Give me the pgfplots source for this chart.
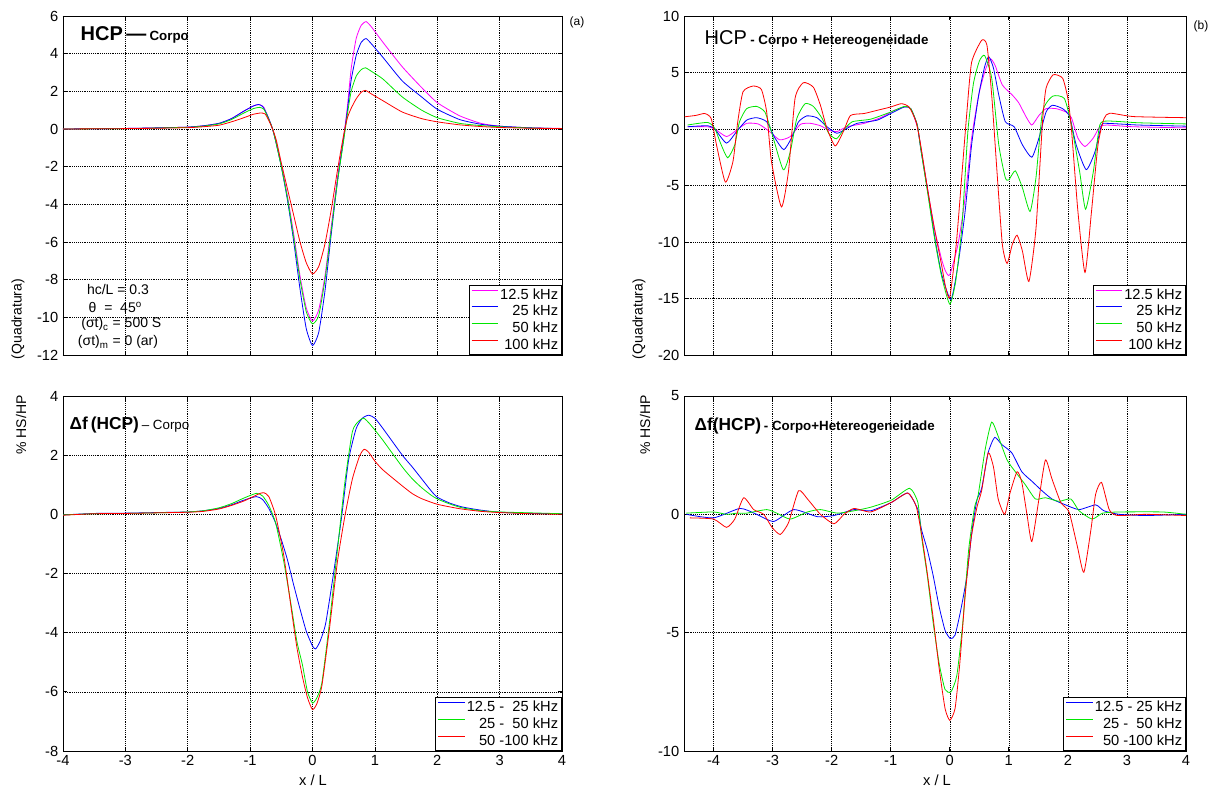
\documentclass[border=0pt]{standalone}
\usepackage{fontspec}
\setmainfont{Liberation Sans}
\usepackage{pgfplots}
\pgfplotsset{compat=1.18}

\definecolor{mmag}{RGB}{255,0,255}
\definecolor{mblue}{RGB}{0,0,255}
\definecolor{mgreen}{RGB}{0,230,0}
\definecolor{mred}{RGB}{255,0,0}

\pgfplotsset{
  matpanel/.style={
    scale only axis,
    axis line style={black, line width=0.6pt},
    tick align=inside,
    major tick length=3pt,
    tick style={black, line width=0.5pt},
    grid=major,
    major grid style={black, densely dotted, line width=0.4pt},
    tick label style={font=\fontsize{11}{13}\selectfont},
    /pgf/number format/assume math mode=true,
    legend cell align=right,
    legend style={at={(rel axis cs:1,0)}, anchor=south east,
      fill=white, font=\fontsize{11}{11}\selectfont,
      inner sep=1.5pt, row sep=0.6pt, nodes={inner sep=1.2pt}},
    legend image code/.code={\draw[#1, line width=0.7pt, sharp plot] (0pt,3.5pt) -- (20pt,3.5pt);},
    every axis plot/.append style={line width=0.6pt, smooth, tension=0.35, mark=none},
  }
}

\begin{document}
\begin{tikzpicture}
\path[use as bounding box] (0,0) rectangle (913.5pt,594.75pt);

% ---------- (a) top left ----------
\begin{axis}[matpanel, at={(47.25pt,328.5pt)}, anchor=south west,
  width=374.25pt, height=254.25pt,
  xmin=-4, xmax=4, ymin=-12, ymax=6,
  xtick={-4,...,4}, ytick={-12,-10,...,6}, xticklabels={}]
\addplot[draw=mmag] coordinates {(-4,0) (-3,0.03) (-2.5,0.06) (-2,0.1) (-1.75,0.17) (-1.5,0.3) (-1.3,0.55) (-1.1,0.95) (-0.95,1.22) (-0.85,1.3) (-0.78,1.15) (-0.72,0.7) (-0.65,0.1) (-0.6,-0.5) (-0.5,-1.9) (-0.4,-3.6) (-0.3,-5.6) (-0.2,-7.8) (-0.1,-9.5) (0,-10.2) (0.1,-9.6) (0.2,-7.8) (0.3,-5.2) (0.4,-2.6) (0.5,-0.4) (0.56,1.2) (0.62,3.2) (0.7,4.8) (0.78,5.5) (0.86,5.7) (0.95,5.4) (1.13,4.6) (1.44,3.3) (1.75,2.2) (2.0,1.4) (2.36,0.7) (2.7,0.3) (3.0,0.15) (3.5,0.06) (4,0.03)};
\addlegendentry{12.5 kHz}
\addplot[draw=mblue] coordinates {(-4,0) (-3,0.03) (-2.5,0.06) (-2,0.1) (-1.75,0.17) (-1.5,0.3) (-1.3,0.55) (-1.1,0.95) (-0.95,1.22) (-0.87,1.3) (-0.8,1.2) (-0.72,0.7) (-0.65,0.1) (-0.6,-0.5) (-0.5,-2.0) (-0.4,-3.8) (-0.3,-6.0) (-0.2,-8.5) (-0.1,-10.6) (0,-11.5) (0.1,-10.8) (0.2,-8.6) (0.3,-5.6) (0.4,-2.8) (0.5,-0.5) (0.56,1.0) (0.62,2.6) (0.7,3.9) (0.78,4.6) (0.86,4.8) (0.95,4.5) (1.13,3.8) (1.44,2.55) (1.75,1.7) (2.0,1.05) (2.36,0.5) (2.7,0.25) (3.0,0.15) (3.5,0.06) (4,0.02)};
\addlegendentry{25 kHz}
\addplot[draw=mgreen] coordinates {(-4,0) (-3,0.02) (-2.5,0.05) (-2,0.09) (-1.75,0.15) (-1.5,0.27) (-1.3,0.5) (-1.1,0.85) (-0.95,1.08) (-0.85,1.15) (-0.78,1.05) (-0.72,0.65) (-0.65,0.1) (-0.6,-0.5) (-0.5,-2.0) (-0.4,-3.7) (-0.3,-5.8) (-0.2,-8.0) (-0.1,-9.7) (0,-10.35) (0.1,-9.9) (0.2,-8.0) (0.3,-5.4) (0.4,-2.8) (0.5,-0.6) (0.56,0.8) (0.62,2.0) (0.7,2.8) (0.78,3.15) (0.85,3.25) (0.95,3.05) (1.13,2.65) (1.44,1.7) (1.75,1.0) (2.0,0.6) (2.36,0.3) (2.7,0.18) (3.0,0.12) (3.5,0.05) (4,0.02)};
\addlegendentry{50 kHz}
\addplot[draw=mred] coordinates {(-4,0) (-3,0.02) (-2.5,0.04) (-2,0.07) (-1.75,0.12) (-1.5,0.2) (-1.3,0.38) (-1.1,0.6) (-0.95,0.78) (-0.83,0.85) (-0.76,0.8) (-0.7,0.45) (-0.64,0) (-0.58,-0.6) (-0.5,-1.8) (-0.4,-3.2) (-0.3,-4.6) (-0.2,-6.0) (-0.1,-7.1) (0,-7.7) (0.1,-7.3) (0.2,-6.1) (0.3,-4.3) (0.4,-2.2) (0.5,-0.3) (0.56,0.6) (0.62,1.1) (0.7,1.6) (0.78,1.95) (0.85,2.05) (0.95,1.85) (1.13,1.5) (1.44,0.9) (1.75,0.55) (2.0,0.38) (2.36,0.22) (2.7,0.13) (3.0,0.08) (3.5,0.04) (4,0.02)};
\addlegendentry{100 kHz}
\end{axis}

% ---------- (b) top right ----------
\begin{axis}[matpanel, at={(513pt,328.5pt)}, anchor=south west,
  width=376.5pt, height=254.25pt,
  xmin=-4.5, xmax=4, ymin=-20, ymax=10,
  xtick={-4,...,4}, ytick={-20,-15,...,10}, xticklabels={}]
\addplot[draw=mmag] coordinates {(-4.44,0.2) (-4.1,0.2) (-3.98,0) (-3.78,-0.67) (-3.61,-0.1) (-3.44,0.5) (-3.24,0.44) (-3.05,-0.23) (-2.88,-0.96) (-2.7,-0.67) (-2.53,0.41) (-2.36,0.5) (-2.19,0.29) (-2.05,-0.1) (-1.91,-0.23) (-1.74,0.2) (-1.45,0.5) (-1.17,1.0) (-0.94,1.65) (-0.77,1.95) (-0.66,1.8) (-0.55,0.2) (-0.49,-1.6) (-0.37,-5.5) (-0.26,-8.8) (-0.14,-11.5) (-0.07,-12.6) (0,-12.9) (0.14,-10.2) (0.26,-6.1) (0.37,-0.8) (0.49,3.0) (0.6,5.2) (0.69,6.2) (0.77,5.6) (0.89,3.9) (1.06,3.0) (1.17,2.3) (1.29,1.1) (1.39,0.35) (1.51,1.2) (1.63,1.8) (1.8,1.8) (1.97,1.5) (2.06,1.0) (2.17,-0.8) (2.29,-1.55) (2.43,-0.8) (2.54,0.2) (2.66,0.35) (3.1,0.2) (4,0.1)};
\addlegendentry{12.5 kHz}
\addplot[draw=mblue] coordinates {(-4.44,0.2) (-4.1,0.29) (-3.98,0) (-3.78,-1.25) (-3.61,-0.23) (-3.44,0.78) (-3.27,1.0) (-3.1,0.64) (-2.96,-0.8) (-2.81,-1.83) (-2.68,-0.8) (-2.56,0.64) (-2.42,1.16) (-2.25,1.0) (-2.08,0.2) (-1.91,-0.38) (-1.74,0.06) (-1.57,0.5) (-1.23,0.78) (-1.0,1.37) (-0.77,1.95) (-0.66,1.8) (-0.55,0.35) (-0.49,-1.8) (-0.37,-5.6) (-0.26,-9.4) (-0.14,-12.8) (0.02,-15.1) (0.14,-12) (0.26,-7.3) (0.37,-1.4) (0.49,3.0) (0.59,5.5) (0.66,6.4) (0.74,5.4) (0.83,3.0) (0.94,0.65) (1.09,0.2) (1.23,-1.4) (1.39,-2.5) (1.51,-0.8) (1.63,1.5) (1.74,2.1) (1.91,1.8) (2.03,1.1) (2.14,-1.4) (2.31,-3.6) (2.46,-2.0) (2.57,0.35) (2.66,0.5) (3.2,0.35) (4,0.25)};
\addlegendentry{25 kHz}
\addplot[draw=mgreen] coordinates {(-4.44,0.35) (-4.1,0.58) (-3.98,0.06) (-3.87,-1.4) (-3.76,-2.55) (-3.64,-1.4) (-3.56,0.64) (-3.44,1.8) (-3.27,2.0) (-3.13,1.5) (-3.02,-0.23) (-2.82,-3.6) (-2.7,-2.0) (-2.59,0.93) (-2.45,2.24) (-2.31,2.0) (-2.16,0.93) (-2.05,-0.38) (-1.92,-0.87) (-1.8,-0.1) (-1.65,0.64) (-1.34,0.87) (-1.0,1.5) (-0.77,2.0) (-0.66,1.8) (-0.55,0.35) (-0.49,-1.8) (-0.37,-5.8) (-0.26,-9.6) (-0.14,-13) (0,-15.5) (0.1,-13.5) (0.2,-9) (0.25,-5) (0.31,0) (0.4,4) (0.5,6) (0.59,6.5) (0.71,4.5) (0.83,-1.4) (0.94,-4.3) (1.0,-4.5) (1.11,-3.7) (1.23,-5.2) (1.36,-7.3) (1.46,-4.3) (1.57,1.5) (1.74,2.9) (1.94,2.7) (2.06,0.35) (2.2,-3.8) (2.3,-7.1) (2.43,-3.8) (2.54,0.35) (2.69,0.7) (3.2,0.55) (4,0.45)};
\addlegendentry{50 kHz}
\addplot[draw=mred] coordinates {(-4.49,1.08) (-4.3,1.2) (-4.15,1.37) (-4.04,0.93) (-3.95,-1.4) (-3.8,-4.7) (-3.67,-2.85) (-3.59,0.64) (-3.5,3.3) (-3.33,3.8) (-3.19,3.5) (-3.1,1.5) (-3.02,-2.85) (-2.85,-6.9) (-2.73,-3.7) (-2.62,2.7) (-2.48,4.1) (-2.31,3.7) (-2.19,2.1) (-2.08,0.06) (-1.94,-1.5) (-1.8,-0.2) (-1.68,1.2) (-1.45,1.37) (-1.23,1.65) (-1.0,1.95) (-0.82,2.24) (-0.69,1.95) (-0.57,0.64) (-0.49,-1.5) (-0.37,-5.5) (-0.26,-8.8) (-0.14,-12) (-0.07,-14) (0,-14.9) (0.11,-10.2) (0.2,-4.4) (0.29,1.5) (0.37,5.9) (0.54,7.85) (0.63,7.4) (0.71,3.0) (0.8,-3.8) (0.89,-10.2) (0.97,-11.9) (1.06,-10.2) (1.14,-9.4) (1.23,-10.8) (1.34,-13.5) (1.46,-8.8) (1.57,0.6) (1.63,3.6) (1.75,4.8) (1.91,4.5) (2.0,2.7) (2.06,0) (2.17,-7.3) (2.29,-12.7) (2.4,-7.3) (2.51,-1.4) (2.61,0.9) (2.71,1.4) (3.11,1.1) (4,1.0)};
\addlegendentry{100 kHz}
\end{axis}

% ---------- bottom left ----------
\begin{axis}[matpanel, at={(47.25pt,31.5pt)}, anchor=south west,
  width=374.25pt, height=266.25pt,
  xmin=-4, xmax=4, ymin=-8, ymax=4,
  xtick={-4,...,4}, ytick={-8,-6,...,4}]
\addplot[draw=mblue] coordinates {(-4,-0.02) (-3.5,0.03) (-3,0.04) (-2.5,0.06) (-2,0.08) (-1.75,0.12) (-1.5,0.2) (-1.3,0.32) (-1.1,0.48) (-0.9,0.6) (-0.8,0.5) (-0.7,0.2) (-0.6,-0.25) (-0.5,-0.85) (-0.4,-1.55) (-0.3,-2.4) (-0.2,-3.2) (-0.1,-3.95) (0,-4.45) (0.05,-4.55) (0.12,-4.3) (0.21,-3.7) (0.33,-2.1) (0.46,-0.2) (0.58,1.85) (0.7,2.9) (0.8,3.25) (0.9,3.35) (1.0,3.25) (1.13,2.9) (1.44,2.0) (1.6,1.6) (1.75,1.2) (1.9,0.8) (2.0,0.58) (2.2,0.38) (2.4,0.25) (2.67,0.15) (3.0,0.07) (3.5,0.03) (4,0.02)};
\addlegendentry{12.5 -\ \ 25 kHz}
\addplot[draw=mgreen] coordinates {(-4,-0.02) (-3.5,0.02) (-3,0.03) (-2.5,0.05) (-2,0.08) (-1.75,0.12) (-1.5,0.22) (-1.3,0.36) (-1.1,0.55) (-0.9,0.71) (-0.8,0.62) (-0.7,0.3) (-0.59,-0.3) (-0.46,-1.6) (-0.34,-3.1) (-0.25,-4.3) (-0.16,-5.1) (-0.08,-6.0) (0,-6.38) (0.07,-6.2) (0.15,-5.7) (0.27,-3.7) (0.4,-1.2) (0.52,1.1) (0.64,2.8) (0.74,3.15) (0.82,3.25) (0.9,3.1) (1.0,2.85) (1.13,2.5) (1.44,1.6) (1.6,1.2) (1.75,0.9) (1.9,0.65) (2.0,0.52) (2.2,0.35) (2.4,0.22) (2.7,0.12) (3.0,0.08) (3.5,0.05) (4,0.02)};
\addlegendentry{25 -\ \ 50 kHz}
\addplot[draw=mred] coordinates {(-4,-0.03) (-3.5,0.02) (-3,0.03) (-2.5,0.05) (-2,0.07) (-1.75,0.1) (-1.5,0.18) (-1.3,0.3) (-1.1,0.45) (-0.95,0.6) (-0.85,0.7) (-0.78,0.73) (-0.7,0.6) (-0.59,-0.05) (-0.46,-1.4) (-0.34,-3.2) (-0.25,-4.5) (-0.16,-5.5) (-0.08,-6.2) (0,-6.6) (0.07,-6.4) (0.15,-5.8) (0.27,-3.9) (0.4,-1.6) (0.52,-0.05) (0.64,1.2) (0.76,2.0) (0.83,2.2) (0.9,2.1) (1.0,1.8) (1.13,1.5) (1.44,0.96) (1.6,0.7) (1.75,0.53) (2.0,0.34) (2.36,0.19) (2.7,0.1) (3.0,0.06) (3.5,0.02) (4,0.0)};
\addlegendentry{50 -100 kHz}
\end{axis}

% ---------- bottom right ----------
\begin{axis}[matpanel, at={(513pt,31.5pt)}, anchor=south west,
  width=376.5pt, height=266.25pt,
  xmin=-4.5, xmax=4, ymin=-10, ymax=5,
  xtick={-4,...,4}, ytick={-10,-5,0,5}]
\addplot[draw=mblue] coordinates {(-4.46,0) (-4.0,-0.15) (-3.55,0.25) (-3.27,0) (-2.98,-0.3) (-2.64,0.2) (-2.24,-0.1) (-1.96,-0.05) (-1.62,0.2) (-1.34,0.15) (-0.99,0.5) (-0.71,0.9) (-0.54,0.2) (-0.48,-0.63) (-0.38,-1.5) (-0.28,-2.6) (-0.18,-3.9) (-0.08,-4.9) (0.01,-5.25) (0.09,-5.1) (0.19,-4.0) (0.29,-2.6) (0.38,-0.63) (0.46,0.6) (0.54,1.1) (0.65,2.6) (0.76,3.25) (0.88,2.95) (1.05,2.6) (1.22,1.8) (1.39,1.4) (1.56,1.0) (1.73,0.65) (1.96,0.4) (2.19,0.2) (2.47,0.4) (2.61,0.15) (2.87,0) (3.32,-0.05) (4,0)};
\addlegendentry{12.5 -\ 25 kHz}
\addplot[draw=mgreen] coordinates {(-4.46,0.05) (-4.0,0.1) (-3.78,0) (-3.6,0.05) (-3.44,0.05) (-3.1,0.2) (-2.93,0.05) (-2.7,-0.2) (-2.41,0.1) (-2.19,0.2) (-1.9,0.05) (-1.62,0.15) (-1.34,0.3) (-0.99,0.6) (-0.68,1.1) (-0.54,0.5) (-0.48,-0.9) (-0.38,-2.6) (-0.28,-4.6) (-0.18,-6.3) (-0.08,-7.4) (0.02,-7.5) (0.12,-6.8) (0.22,-4.6) (0.32,-1.5) (0.42,0.3) (0.48,0.8) (0.6,2.75) (0.71,3.9) (0.82,3.3) (0.97,2.3) (1.11,1.8) (1.28,1.25) (1.45,0.65) (1.62,0.7) (1.85,0.55) (2.05,0.65) (2.19,0.15) (2.41,-0.2) (2.59,0.05) (2.87,0.1) (3.6,0.1) (4,0)};
\addlegendentry{25 -\ \ 50 kHz}
\addplot[draw=mred] coordinates {(-4.4,-0.15) (-4.0,-0.2) (-3.78,-0.55) (-3.64,-0.2) (-3.49,0.7) (-3.32,0.2) (-3.15,0) (-3.01,-0.55) (-2.87,-0.85) (-2.73,-0.35) (-2.56,1.0) (-2.41,0.65) (-2.19,0) (-1.96,-0.4) (-1.79,0) (-1.62,0.25) (-1.34,0.1) (-0.99,0.5) (-0.71,0.9) (-0.57,0.35) (-0.48,-0.8) (-0.38,-2.5) (-0.28,-4.4) (-0.18,-6.5) (-0.08,-8.2) (0,-8.7) (0.09,-8.2) (0.17,-6.3) (0.26,-3.45) (0.36,-1.05) (0.46,0.3) (0.54,1.0) (0.65,2.6) (0.74,2.0) (0.82,0.65) (0.93,0) (1.02,0.9) (1.14,1.8) (1.22,1.35) (1.31,-0.05) (1.39,-1.15) (1.51,0.65) (1.62,2.3) (1.73,1.5) (1.88,0.5) (2.02,0.1) (2.16,-1.35) (2.27,-2.45) (2.39,-0.65) (2.47,0.85) (2.57,1.35) (2.7,0.2) (2.84,-0.05) (3.32,0) (4,-0.05)};
\addlegendentry{50 -100 kHz}
\end{axis}

% ---------- texts ----------
\node[anchor=base west] at (57pt,564.2pt) {\fontsize{15}{15}\selectfont\bfseries HCP\,\raisebox{0.5pt}{—}\,{\fontsize{10}{10}\selectfont Corpo}};
\node[anchor=base west] at (525pt,561pt) {\fontsize{15}{15}\selectfont HCP\,{\fontsize{10}{10}\selectfont\bfseries - Corpo + Hetereogeneidade}};
\node[anchor=base west] at (48.75pt,272.25pt) {\fontsize{13}{13}\selectfont\bfseries Δf\,(HCP)\,{\fontsize{10}{10}\selectfont\mdseries – Corpo}};
\node[anchor=base west] at (517.5pt,271.7pt) {\fontsize{13}{13}\selectfont\bfseries Δf(HCP)\,{\fontsize{10}{10}\selectfont - Corpo+Hetereogeneidade}};

\node[font=\fontsize{9}{9}\selectfont] at (432.75pt,578.25pt) {(a)};
\node[font=\fontsize{9}{9}\selectfont] at (900.75pt,575.25pt) {(b)};

\node[anchor=base, font=\fontsize{10.5}{10.5}\selectfont] at (88.5pt,373.5pt) {hc/L = 0.3};
\node[anchor=base, font=\fontsize{10.5}{10.5}\selectfont] at (86.5pt,360pt) {θ\ \ = \ 45\textsuperscript{o}};
\node[anchor=base, font=\fontsize{10.5}{10.5}\selectfont] at (91pt,348.75pt) {(σt)\textsubscript{c} = 500 S};
\node[anchor=base, font=\fontsize{10.5}{10.5}\selectfont] at (88.5pt,335.25pt) {(σt)\textsubscript{m} = 0 (ar)};

\node[rotate=90, font=\fontsize{10.5}{10.5}\selectfont] at (13.5pt,355.5pt) {(Quadratura)};
\node[rotate=90, font=\fontsize{10.5}{10.5}\selectfont] at (15.75pt,276pt) {\% HS/HP};
\node[rotate=90, font=\fontsize{10.5}{10.5}\selectfont] at (479.25pt,355.5pt) {(Quadratura)};
\node[rotate=90, font=\fontsize{10.5}{10.5}\selectfont] at (483.75pt,276pt) {\% HS/HP};

\node[font=\fontsize{11}{11}\selectfont] at (234.75pt,9.75pt) {x / L};
\node[font=\fontsize{11}{11}\selectfont] at (702.75pt,9.75pt) {x / L};
\end{tikzpicture}
\end{document}
